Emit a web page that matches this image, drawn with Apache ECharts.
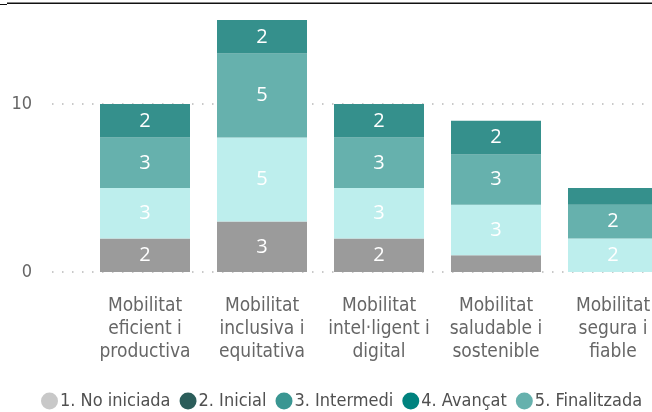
<!DOCTYPE html>
<html>
<head>
<meta charset="utf-8">
<script src="https://cdn.jsdelivr.net/npm/echarts@6/dist/echarts.min.js"></script>
<style>
  html, body { margin: 0; padding: 0; background: #ffffff; }
  #chart { width: 652px; height: 412px; }
</style>
</head>
<body>
<div id="chart"></div>
<script>
// Categories (each label broken over three lines)
const categories = [
  'Mobilitat\neficient i\nproductiva',
  'Mobilitat\ninclusiva i\nequitativa',
  'Mobilitat\nintel·ligent i\ndigital',
  'Mobilitat\nsaludable i\nsostenible',
  'Mobilitat\nsegura i\nfiable'
];

// Number of actions per status, stacked bottom to top
const noIniciada  = [2, 3, 2, 1, 0];
const inicial     = [3, 5, 3, 3, 2];
const intermedi   = [3, 5, 3, 3, 2];
const avancat     = [2, 2, 2, 2, 1];
const finalitzada = [0, 0, 0, 0, 0];

const seriesNames = ['1. No iniciada', '2. Inicial', '3. Intermedi', '4. Avançat', '5. Finalitzada'];
const seriesData  = [noIniciada, inicial, intermedi, avancat, finalitzada];
const barColors   = ['#9b9b9b', '#bdeeed', '#66b1ad', '#35908c', '#008480'];
const legendColors = ['#c8c8c8', '#2b5d5a', '#3a9692', '#00827e', '#66b1ad'];

const yTicks = [0, 10];

const labelFont = 'DejaVu Sans Condensed';

const series = seriesNames.map((name, i) => ({
  name: name,
  type: 'bar',
  stack: 'total',
  xAxisIndex: 1,
  yAxisIndex: 1,
  barWidth: 90,
  data: seriesData[i],
  itemStyle: { color: barColors[i] },
  label: {
    show: true,
    position: 'inside',
    color: '#ffffff',
    fontFamily: 'Open Sans',
    fontSize: 20,
    formatter: p => (p.value >= 2 ? String(p.value) : '')
  },
  emphasis: { disabled: true }
}));

const chart = echarts.init(document.getElementById('chart'), null, { renderer: 'canvas' });
chart.setOption({
  animation: false,
  grid: [
    // background grid carrying the value scale and dotted guides
    { left: 52, right: 0, top: 20, bottom: 140, outerBoundsMode: 'none' },
    // category grid holding the bars (runs past the right edge)
    { left: 86.5, width: 585, top: 20, bottom: 140, outerBoundsMode: 'none' }
  ],
  xAxis: [
    { type: 'value', gridIndex: 0, show: false, min: 0, max: 1 },
    {
      type: 'category', gridIndex: 1, data: categories,
      axisLine: { show: false }, axisTick: { show: false },
      axisLabel: {
        margin: 23, interval: 0,
        fontFamily: labelFont, fontSize: 19, lineHeight: 23, color: '#666666'
      }
    }
  ],
  yAxis: [
    {
      type: 'value', gridIndex: 0, min: 0, max: 15, interval: 10,
      axisLine: { show: false }, axisTick: { show: false },
      axisLabel: {
        margin: 20, fontFamily: labelFont, fontSize: 18, color: '#666666',
        showMaxLabel: false,
        formatter: v => (yTicks.includes(v) ? String(v) : '')
      },
      splitLine: {
        show: true, showMaxLine: false,
        lineStyle: { color: '#b8b8b8', width: 1.5, type: [1.5, 8.5] }
      }
    },
    { type: 'value', gridIndex: 1, min: 0, max: 15, show: false }
  ],
  legend: {
    left: 36, top: 387,
    itemWidth: 17, itemHeight: 17, itemGap: 9,
    icon: 'circle',
    textStyle: { fontFamily: labelFont, fontSize: 18, color: '#505050', padding: [0, 0, 0, -3] },
    data: seriesNames.map((n, i) => ({ name: n, itemStyle: { color: legendColors[i] } }))
  },
  graphic: [
    { type: 'rect', shape: { x: 7, y: 2.5, width: 645, height: 1.5 }, style: { fill: '#111111' } },
    { type: 'rect', shape: { x: 0, y: 4, width: 7, height: 1 }, style: { fill: '#111111' } }
  ],
  series: series
});
</script>
</body>
</html>
